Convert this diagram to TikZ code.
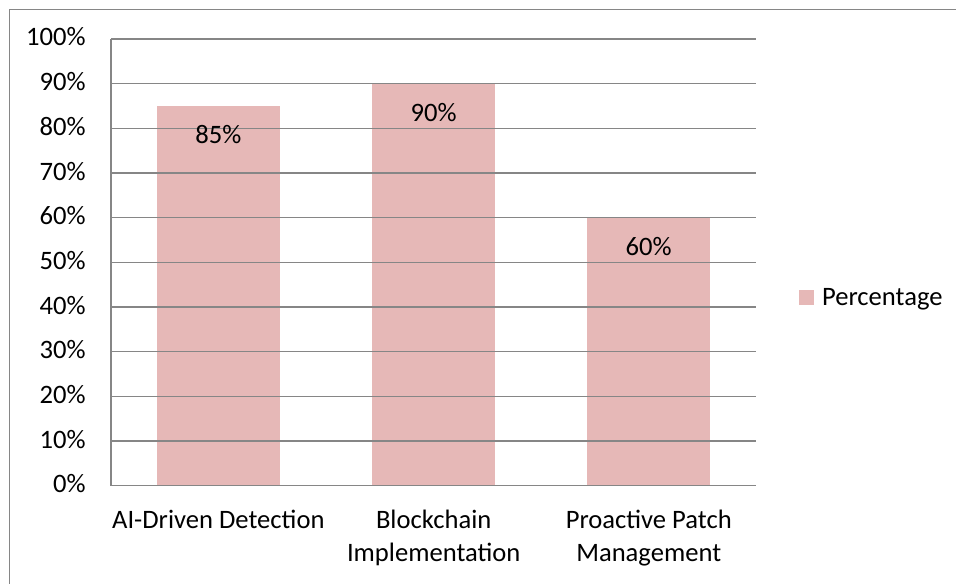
\documentclass[tikz,border=0pt]{standalone}
\usepackage{fontspec}
\setmainfont{Carlito}
\definecolor{barpink}{HTML}{E6B8B7}
\definecolor{gridgray}{HTML}{868686}
\tikzset{
  grid line/.style={gridgray,line width=0.75pt},
  tick label/.style={anchor=base east,inner sep=0pt,font=\fontsize{13.3}{16.5}\selectfont},
  cat label/.style={anchor=base,inner sep=0pt,align=center,font=\fontsize{13.3}{16.5}\selectfont},
  value label/.style={anchor=base,inner sep=0pt,font=\fontsize{13.3}{16.5}\selectfont}
}
\begin{document}
\begin{tikzpicture}[x=0.5pt,y=-0.5pt]
    \useasboundingbox (0,0) rectangle (956,583);
    % outer frame (only left and top edges show)
    \draw[grid line] (9.5,590) -- (9.5,9.5) -- (960,9.5);
    % bars
    \fill[barpink] (157,485.7) rectangle (279.7,106.0);
    \fill[barpink] (372.3,485.7) rectangle (495,83.7);
    \fill[barpink] (587.3,485.7) rectangle (710,217.7);
    % gridlines and ticks
    \foreach \i in {0,...,10}{
      \pgfmathsetmacro{\yy}{485.7-44.67*\i}
      \draw[grid line] (111,\yy) -- (756,\yy);
      \pgfmathtruncatemacro{\pc}{10*\i}
      \node[tick label] (tick\i) at (86,\yy+7) {\pc\%};
    }
    \draw[grid line] (111,38.6) -- (111,485.7);
    % bar values
    \node[value label] (v1) at (218.3,143.3) {85\%};
    \node[value label] (v2) at (433.7,121.5) {90\%};
    \node[value label] (v3) at (648.7,255.3) {60\%};
    % categories (base = last line)
    \node[cat label] (c1) at (218.3,528.3) {AI-Driven Detection};
    \node[cat label] (c2) at (433.7,561.3) {Blockchain\\Implementation};
    \node[cat label] (c3) at (648.7,561.3) {Proactive Patch\\Management};
    % legend
    \fill[barpink] (799.3,290) rectangle (814,305);
    \node[value label,anchor=base west] (leg) at (821.7,305) {Percentage};
\end{tikzpicture}
\end{document}
